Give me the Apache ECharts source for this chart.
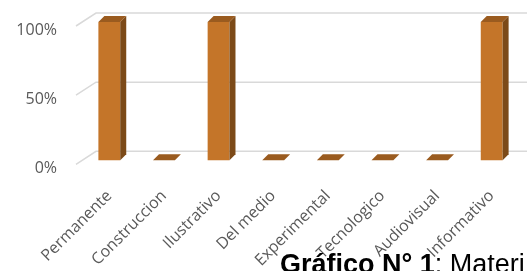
<!DOCTYPE html>
<html>
<head>
<meta charset="utf-8">
<script src="https://cdn.jsdelivr.net/npm/echarts@6/dist/echarts.min.js"></script>
<style>
  html, body { margin: 0; padding: 0; background: #fff; }
  #chart { width: 527px; height: 271px; }
</style>
</head>
<body>
<div id="chart"></div>
<script>
// data
const categories = ["Permanente", "Construccion", "Ilustrativo", "Del medio", "Experimental", "Tecnologico", "Audiovisual", "Informativo"];
const values = [100, 0, 100, 0, 0, 0, 0, 100];
const yTicks = [0, 50, 100];

const chart = echarts.init(document.getElementById("chart"));

// pseudo 3D bar: front face, right side, top
let renderBar = (params, api) => {
  let idx = api.value(0);
  let top = api.coord([idx, api.value(1)]);
  let base = api.coord([idx, 0]);
  let w = api.size([1, 0])[0] * 0.4;
  let x0 = top[0] - w / 2, x1 = top[0] + w / 2;
  let dx = 6, dy = -6;
  let kids = [];
  if (base[1] - top[1] > 0.5) {
    kids.push({ type: "rect", shape: { x: x0, y: top[1], width: w, height: base[1] - top[1] }, style: { fill: "#c47529" } });
    kids.push({ type: "polygon", shape: { points: [[x1, top[1]], [x1 + dx, top[1] + dy], [x1 + dx, base[1] + dy], [x1, base[1]]] }, style: { fill: "#7c4a18" } });
  }
  kids.push({ type: "polygon", shape: { points: [[x0, top[1]], [x1, top[1]], [x1 + dx, top[1] + dy], [x0 + dx, top[1] + dy]] }, style: { fill: "#9a5b1f" } });
  return { type: "group", children: kids };
};

// back-wall gridlines with the diagonal floor/side part
let renderGrid = (params, api) => {
  let cs = params.coordSys;
  let y = api.coord([0, api.value(0)])[1];
  return {
    type: "polyline",
    shape: { points: [[cs.x - 6, y + 4], [cs.x + 14, y - 9], [527, y - 9]] },
    style: { stroke: "#d9d9d9", lineWidth: 1.5, fill: null }
  };
};

chart.setOption({
  animation: false,
  title: {
    text: "{b|Gráfico N° 1}: Materi",
    left: 275,
    top: 247,
    textStyle: {
      fontFamily: "Liberation Sans",
      fontSize: 27,
      fontWeight: "normal",
      color: "#000",
      rich: { b: { fontFamily: "Liberation Sans", fontSize: 27, fontWeight: "bold", color: "#000" } }
    }
  },
  grid: { left: 82, right: 8, top: 22, bottom: 110 },
  xAxis: {
    type: "category",
    data: categories,
    axisLine: { show: false },
    axisTick: { show: false },
    axisLabel: { rotate: 45, interval: 0, margin: 33, fontSize: 16, color: "#595959", fontFamily: "Open Sans" }
  },
  yAxis: {
    type: "value",
    min: 0,
    max: 100,
    interval: 50,
    splitLine: { show: false },
    axisLabel: { formatter: "{value}%", margin: 25, fontSize: 16, color: "#595959", fontFamily: "Open Sans", verticalAlign: "top" }
  },
  series: [
    {
      type: "custom",
      renderItem: renderGrid,
      data: yTicks,
      encode: { y: 0 },
      silent: true,
      z: 1
    },
    {
      type: "custom",
      renderItem: renderBar,
      data: values.map((v, i) => [i, v]),
      encode: { x: 0, y: 1 },
      z: 2
    }
  ]
});
</script>
</body>
</html>
